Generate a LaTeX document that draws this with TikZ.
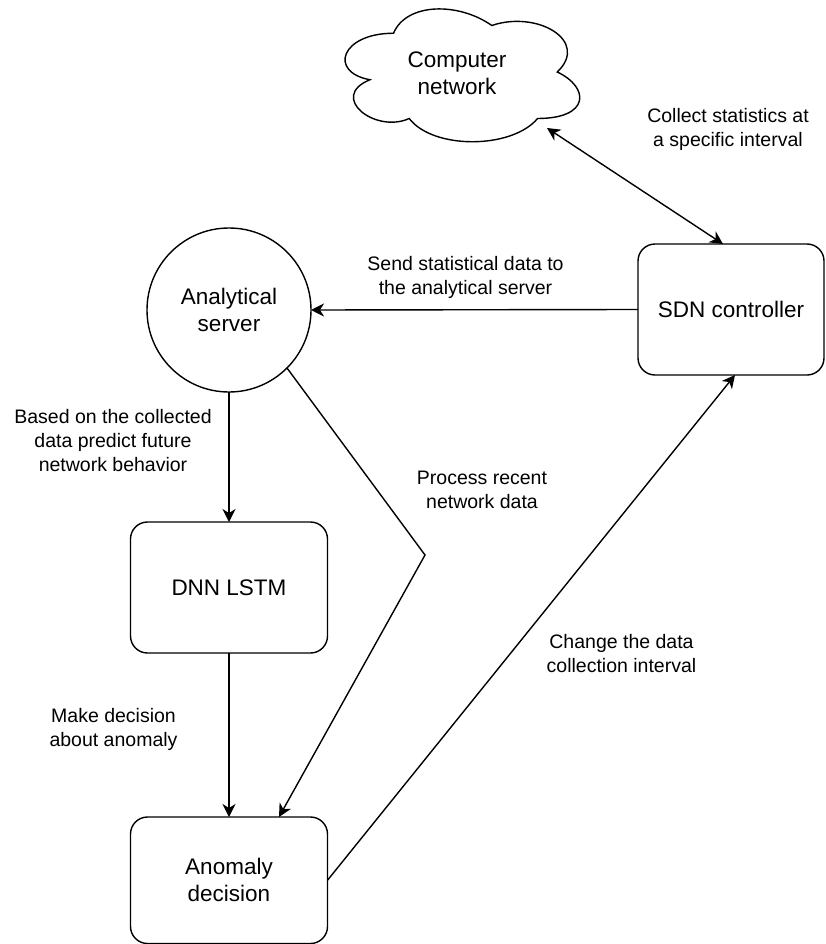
\documentclass[tikz,border=0pt]{standalone}
\usepackage{fontspec}
\setmainfont{Liberation Sans}
\usetikzlibrary{arrows.meta,calc}
\begin{document}
\begin{tikzpicture}[x=1pt,y=-1pt,
  every node/.style={inner sep=0pt, outer sep=0pt},
  ln/.style={line width=1.4pt, black},
  arr/.style={ln, -{Stealth[length=13pt,width=13pt,inset=4pt]}},
  darr/.style={ln, {Stealth[length=13pt,width=13pt,inset=4pt]}-{Stealth[length=13pt,width=13pt,inset=4pt]}},
  ntext/.style={align=center, font=\fontsize{22.5}{27}\selectfont},
  box/.style={draw, ln, rounded corners=17pt, ntext},
  lbl/.style={align=center, font=\fontsize{19.5}{24}\selectfont}
]
\useasboundingbox (0,0) rectangle (825,944);
% cloud
\draw[ln, shift={(328,-5.5)}, xscale=262, yscale=155]
  (0.25,0.25) .. controls (0.05,0.25) and (0,0.5) .. (0.16,0.55)
  .. controls (0,0.66) and (0.18,0.9) .. (0.31,0.8)
  .. controls (0.4,1) and (0.7,1) .. (0.8,0.8)
  .. controls (1,0.8) and (1,0.6) .. (0.875,0.5)
  .. controls (1,0.3) and (0.8,0.1) .. (0.625,0.2)
  .. controls (0.5,0.05) and (0.3,0.05) .. (0.25,0.25) -- cycle;
\node[ntext] (net) at (457,73) {Computer\\network};
\coordinate (netb) at (547,128);

% nodes
\node[box, minimum width=186pt, minimum height=131pt] (sdn) at (731,309.5) {SDN controller};
\node[draw, ln, circle, minimum size=164pt, ntext] (as) at (229,310) {Analytical\\server};
\node[box, minimum width=197pt, minimum height=131pt] (dnn) at (229,587.5) {DNN LSTM};
\node[box, minimum width=197pt, minimum height=126.5pt] (ad) at (229,880.25) {Anomaly\\decision};
\coordinate (bend) at (425,555);

% connectors
\draw[darr] (netb) -- ([xshift=-8pt]sdn.north);
\draw[arr] (sdn.west) -- (as.east);
\draw[arr] (as.south) -- (dnn.north);
\draw[arr] (dnn.south) -- (ad.north);
\draw[arr] (as.-45) -- (bend) -- ([xshift=50pt]ad.north);
\draw[arr] (ad.east) -- ([xshift=4pt]sdn.south);

% labels
\node[lbl] (l1) at (728,129.5) {Collect statistics at\\a specific interval};
\node[lbl] (l2) at (465.5,277) {Send statistical data to\\the analytical server};
\node[lbl] (l3) at (113,440.5) {Based on the collected\\data predict future\\network behavior};
\node[lbl] (l4) at (482,489.5) {Process recent\\network data};
\node[lbl] (l5) at (113.5,729.5) {Make decision\\about anomaly};
\node[lbl] (l6) at (621.5,653.5) {Change the data\\collection interval};
\end{tikzpicture}
\end{document}
